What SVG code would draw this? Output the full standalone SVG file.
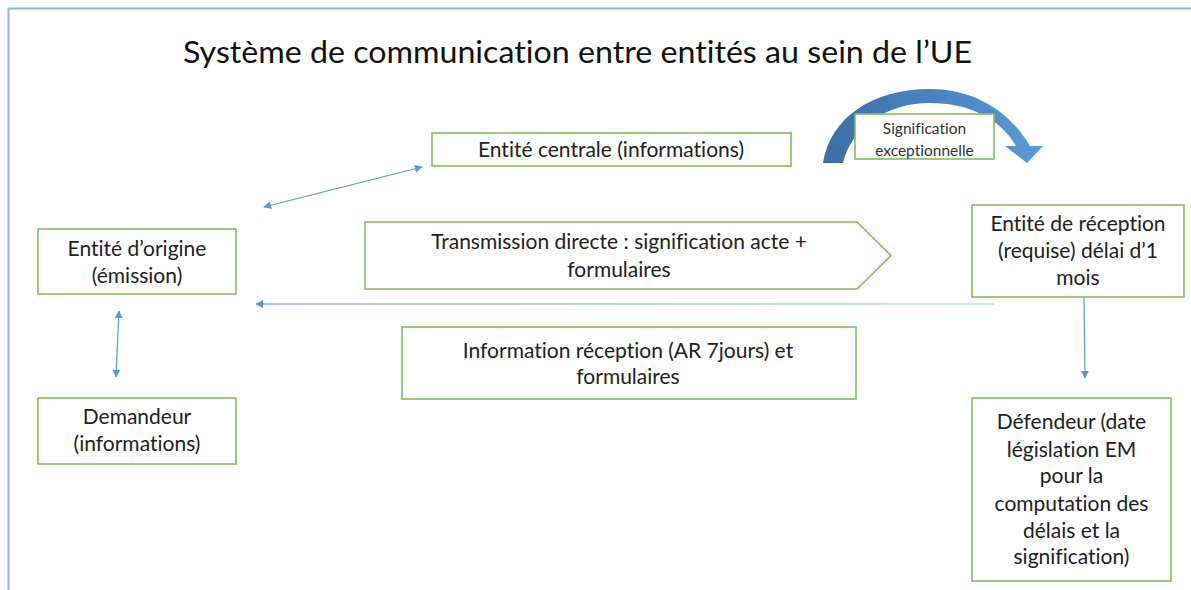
<svg xmlns="http://www.w3.org/2000/svg" width="1191" height="590" viewBox="0 0 1191 590">
  <defs>
    <style>
      .box { fill: #ffffff; stroke: #82bd62; stroke-width: 1.6; }
      .t { font-family: Lato, "Liberation Sans", sans-serif; font-size: 21px; fill: #222222; text-anchor: middle; font-variant-ligatures: none; }
      .ts { font-family: Lato, "Liberation Sans", sans-serif; font-size: 15.5px; fill: #333333; text-anchor: middle; font-variant-ligatures: none; }
      .title { font-family: Lato, "Liberation Sans", sans-serif; font-size: 31px; fill: #111111; font-variant-ligatures: none; }
      .conn { stroke: #5b9bd5; stroke-width: 1.2; fill: none; }
      .frame { stroke: #8db3e2; stroke-width: 2; fill: none; }
    </style>
    <marker id="ah" viewBox="0 0 10 10" refX="9" refY="5" markerWidth="8" markerHeight="8" markerUnits="userSpaceOnUse" orient="auto-start-reverse">
      <path d="M0,0 L10,5 L0,10 z" fill="#5b9bd5"/>
    </marker>
    <linearGradient id="arcGrad" x1="0" y1="0" x2="1" y2="0">
      <stop offset="0" stop-color="#3e6ea6"/>
      <stop offset="0.5" stop-color="#4a82c0"/>
      <stop offset="1" stop-color="#5b9bd5"/>
    </linearGradient>
    <linearGradient id="hGrad" gradientUnits="userSpaceOnUse" x1="256" y1="0" x2="994" y2="0">
      <stop offset="0" stop-color="#8fb4e3"/>
      <stop offset="1" stop-color="#c6d9f0"/>
    </linearGradient>
  </defs>

  <rect width="1191" height="590" fill="#ffffff"/>
  <path class="frame" d="M8.5,590 L8.5,8.5 L1191,8.5"/>

  <text class="title" x="183" y="63" textLength="789" lengthAdjust="spacingAndGlyphs">Système de communication entre entités au sein de l’UE</text>

  <g id="connectors">
    <line class="conn" x1="264" y1="207" x2="422" y2="167" marker-start="url(#ah)" marker-end="url(#ah)"/>
    <line class="conn" x1="119" y1="311" x2="116" y2="377" marker-start="url(#ah)" marker-end="url(#ah)"/>
    <line x1="994" y1="304" x2="256" y2="304" stroke="url(#hGrad)" stroke-width="1.4" marker-end="url(#ah)"/>
    <line class="conn" x1="1084" y1="298" x2="1085" y2="378" marker-end="url(#ah)"/>
  </g>

  <g id="curved-arrow">
    <path d="M823,163 C830,118 872,89 930,89 C978,89 1012,115 1030,146 L1043,146 L1027,163 L1005,146 L1016,146 C1000,118 968,103 930,103 C888,103 852,126 843,163 Z" fill="url(#arcGrad)"/>
  </g>

  <g id="node-signification">
    <rect class="box" x="855" y="114" width="139" height="45"/>
    <text class="ts" x="924.5" y="134">Signification</text>
    <text class="ts" x="924.5" y="156">exceptionnelle</text>
  </g>

  <g id="node-centrale">
    <rect class="box" x="432" y="133" width="359" height="33"/>
    <text class="t" x="611" y="157">Entité centrale (informations)</text>
  </g>

  <g id="node-origine">
    <rect class="box" x="38" y="229" width="198" height="65"/>
    <text class="t" x="137" y="256">Entité d’origine</text>
    <text class="t" x="137" y="283">(émission)</text>
  </g>

  <g id="node-demandeur">
    <rect class="box" x="38" y="398" width="198" height="66"/>
    <text class="t" x="137" y="424">Demandeur</text>
    <text class="t" x="137" y="451">(informations)</text>
  </g>

  <g id="node-transmission">
    <path class="box" d="M365,222 L857,222 L891,255.5 L857,289 L365,289 Z"/>
    <text class="t" x="619" y="249">Transmission directe : signification acte +</text>
    <text class="t" x="619" y="277">formulaires</text>
  </g>

  <g id="node-information">
    <rect class="box" x="402" y="327" width="454" height="72"/>
    <text class="t" x="628" y="358">Information réception (AR 7jours) et</text>
    <text class="t" x="628" y="384">formulaires</text>
  </g>

  <g id="node-reception">
    <rect class="box" x="972" y="205" width="212" height="92"/>
    <text class="t" x="1078" y="231">Entité de réception</text>
    <text class="t" x="1078" y="258">(requise) délai d’1</text>
    <text class="t" x="1078" y="285">mois</text>
  </g>

  <g id="node-defendeur">
    <rect class="box" x="972" y="398" width="199" height="183"/>
    <text class="t" x="1071.5" y="429">Défendeur (date</text>
    <text class="t" x="1071.5" y="457">législation EM</text>
    <text class="t" x="1071.5" y="483">pour la</text>
    <text class="t" x="1071.5" y="511">computation des</text>
    <text class="t" x="1071.5" y="538">délais et la</text>
    <text class="t" x="1071.5" y="564">signification)</text>
  </g>
</svg>
